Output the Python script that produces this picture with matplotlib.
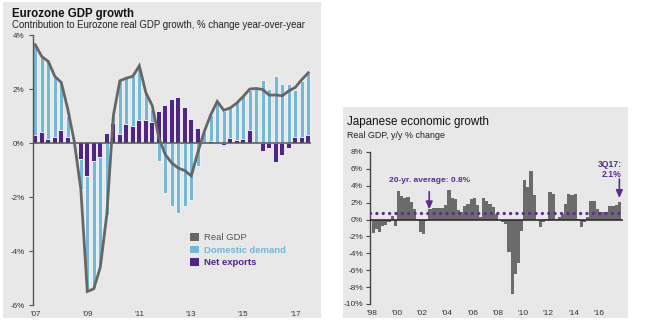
import matplotlib
matplotlib.use("Agg")
import matplotlib.pyplot as plt
import matplotlib.font_manager as fm
from matplotlib.patches import Rectangle, Patch
import numpy as np

# ---------------- data ----------------
ez_start = 2007.0
ez_gdp = [3.64, 3.2, 3.02, 2.47, 2.24, 1.25, 0.05, -1.7, -5.5, -5.4, -4.6, -2.65,
          1.0, 2.3, 2.4, 2.47, 2.86, 1.87, 1.38, 0.2, -0.43, -0.74, -0.93, -1.02,
          -1.22, -0.35, 0.43, 1.05, 1.54, 1.21, 1.3, 1.48, 1.73, 2.0, 2.02, 1.98,
          1.77, 1.78, 1.75, 1.93, 2.06, 2.35, 2.6]
ez_domestic = [3.33, 2.78, 2.86, 2.25, 1.76, 0.8, 0.1, -1.1, -4.2, -4.7, -4.0, -2.65,
               0.3, 1.95, 1.7, 1.85, 2.0, 1.05, 0.5, -0.68, -1.85, -2.35, -2.6, -2.32,
               -2.1, -0.86, 0.4, 0.95, 1.5, 1.2, 1.1, 1.42, 1.64, 1.5, 2.04, 2.35,
               2.0, 2.49, 2.2, 2.2, 1.76, 2.06, 2.29]
ez_netexp = [0.31, 0.42, 0.16, 0.22, 0.48, 0.21, -0.05, -0.59, -1.21, -0.68, -0.53, 0.35,
             0.74, 0.35, 0.72, 0.62, 0.86, 0.84, 0.77, 1.16, 1.38, 1.58, 1.67, 1.28,
             0.86, 0.52, 0.0, 0.09, 0.0, -0.06, 0.2, 0.11, 0.14, 0.47, 0.0, -0.31,
             -0.19, -0.72, -0.43, -0.19, 0.22, 0.22, 0.3]
ez_xticks = [2007, 2009, 2011, 2013, 2015, 2017]
ez_xlabels = ["'07", "'09", "'11", "'13", "'15", "'17"]
ez_yticks = [4, 2, 0, -2, -4, -6]
ez_ylabels = ["4%", "2%", "0%", "-2%", "-4%", "-6%"]
ez_legend = ["Real GDP", "Domestic demand", "Net exports"]

jp_start = 1998.0
jp_gdp = [-1.6, -1.1, -1.5, -0.8, -0.6, -0.3, 0.4, -0.8,
          3.4, 2.8, 2.6, 2.7, 2.1, 1.2, 0.1, -1.5,
          -1.7, -0.2, 1.2, 1.4, 1.4, 1.4, 1.4, 1.7,
          3.5, 2.6, 2.4, 1.1, 0.9, 1.6, 1.9, 2.4,
          2.5, 1.7, 0.3, 2.5, 2.2, 1.8, 1.5, 0.6,
          0.0, -0.3, -0.5, -3.8, -8.8, -6.5, -5.2, -1.4,
          4.7, 3.8, 5.8, 2.9, -0.1, -0.9, -0.3, 0.1,
          3.3, 3.0, 0.1, 0.3, 0.7, 1.9, 3.0, 2.9,
          3.0, 0.1, -0.9, -0.3, 0.3, 2.2, 2.2, 1.2,
          0.9, 0.9, 0.9, 1.6, 1.6, 1.7, 2.1]
jp_average = 0.8
jp_xticks = [1998, 2000, 2002, 2004, 2006, 2008, 2010, 2012, 2014, 2016]
jp_xlabels = ["'98", "'00", "'02", "'04", "'06", "'08", "'10", "'12", "'14", "'16"]
jp_yticks = [8, 6, 4, 2, 0, -2, -4, -6, -8, -10]
jp_ylabels = ["8%", "6%", "4%", "2%", "0%", "-2%", "-4%", "-6%", "-8%", "-10%"]

# ---------------- style ----------------
names = {f.name for f in fm.fontManager.ttflist}
SANS = "Liberation Sans" if "Liberation Sans" in names else "DejaVu Sans"
plt.rcParams["font.family"] = [SANS, "DejaVu Sans"]

BG = "#e8e8e8"
BLUE = "#76b7d4"
PURPLE = "#4f2683"
GRAY_LINE = "#666666"
JP_BAR = "#6b6b6b"
TXT = "#333333"
JP_PURPLE = "#5a2d91"

W, H = 645, 326
fig = plt.figure(figsize=(W / 100, H / 100), dpi=100)
fig.patch.set_facecolor("white")


def px_rect(x0, y0, x1, y1):
    return [x0 / W, 1 - y1 / H, (x1 - x0) / W, (y1 - y0) / H]


# panel backgrounds (as a background axes so they stay behind everything)
bg_ax = fig.add_axes([0, 0, 1, 1], zorder=-10)
bg_ax.set_axis_off()
bg_ax.set_xlim(0, W)
bg_ax.set_ylim(H, 0)
for (x0, y0, x1, y1) in [(3, 2, 321, 318), (343, 107, 628, 318)]:
    bg_ax.add_patch(Rectangle((x0, y0), x1 - x0, y1 - y0, facecolor=BG, edgecolor="none"))

# ---------------- Eurozone ----------------
ax = fig.add_axes(px_rect(33, 35, 311, 305))
ax.set_facecolor("none")
n = len(ez_gdp)
x = ez_start + np.arange(n) / 4.0
gdp = np.array(ez_gdp)
dd = np.array(ez_domestic)
nx = np.array(ez_netexp)
dd_bottom = np.where(np.sign(dd) == np.sign(nx), nx, 0.0)
bw = 0.25 * 0.66
ax.bar(x, nx, width=bw, color=PURPLE, edgecolor="none", zorder=2)
ax.bar(x, dd, bottom=dd_bottom, width=bw, color=BLUE, edgecolor="#f4f8fa",
       linewidth=0.6, zorder=2)
ax.axhline(0, color="#555555", lw=1.1, zorder=3)
ax.plot(x, gdp, color=GRAY_LINE, lw=2.0, zorder=4, solid_joinstyle="miter")
ax.set_xlim(ez_start - 2.3 / 26, ez_start + (311 - 35.3) / 26)
ax.set_ylim(-6, 4)
ax.set_yticks(ez_yticks)
ax.set_yticklabels(ez_ylabels)
ax.set_xticks(ez_xticks)
ax.set_xticklabels(ez_xlabels)
for s in ["top", "right", "bottom"]:
    ax.spines[s].set_visible(False)
ax.spines["left"].set_color("#555555")
ax.spines["left"].set_linewidth(1.0)
ax.tick_params(axis="y", length=3, width=0.8, color="#555555", pad=3,
               labelsize=5.8, labelcolor=TXT)
ax.tick_params(axis="x", length=0, pad=4, labelsize=5.8, labelcolor=TXT)

handles = [Patch(facecolor=GRAY_LINE, edgecolor="none"),
           Patch(facecolor=BLUE, edgecolor="none"),
           Patch(facecolor=PURPLE, edgecolor="none")]
leg = ax.legend(handles, ez_legend, loc="upper left",
                bbox_to_anchor=(190 / W, 1 - 233 / H), bbox_transform=fig.transFigure,
                frameon=False, fontsize=6.8, handlelength=1.0, handleheight=0.85,
                handletextpad=0.45, labelspacing=0.38, borderpad=0, borderaxespad=0)
for t, c, wgt in zip(leg.get_texts(), ["#555555", BLUE, PURPLE], ["normal", "bold", "bold"]):
    t.set_color(c)
    t.set_fontweight(wgt)

fig.text(12 / W, 1 - 17 / H, "Eurozone GDP growth", fontsize=8.3, fontweight="bold",
         color="#111111", va="baseline", ha="left")
fig.text(12 / W, 1 - 27.5 / H,
         "Contribution to Eurozone real GDP growth, % change year-over-year",
         fontsize=6.9, color="#222222", va="baseline", ha="left")

# ---------------- Japan ----------------
px_per_year = 12.62
axj = fig.add_axes(px_rect(370, 152, 623, 304))
axj.set_facecolor("none")
m = len(jp_gdp)
xj = jp_start + np.arange(m) / 4.0
axj.bar(xj, jp_gdp, width=0.25, align="edge", color=JP_BAR, edgecolor="none", zorder=2)
axj.axhline(0, color="#222222", lw=1.1, zorder=3)
axj.axhline(jp_average, color=JP_PURPLE, lw=2.4, ls=(0, (0.01, 1.9)),
            dash_capstyle="round", zorder=4)
axj.set_xlim(jp_start - 1.7 / px_per_year, jp_start + (623 - 371.7) / px_per_year)
axj.set_ylim(-10, 8)
axj.set_yticks(jp_yticks)
axj.set_yticklabels(jp_ylabels)
axj.set_xticks(jp_xticks)
axj.set_xticklabels(jp_xlabels)
for s in ["top", "right", "bottom"]:
    axj.spines[s].set_visible(False)
axj.spines["left"].set_color("#444444")
axj.spines["left"].set_linewidth(1.0)
axj.tick_params(axis="y", length=3, width=0.8, color="#444444", pad=2,
                labelsize=6.0, labelcolor=TXT)
axj.tick_params(axis="x", length=0, pad=4, labelsize=6.0, labelcolor=TXT)

avg_x = 2002.56
axj.annotate("", xy=(avg_x, 1.2), xytext=(avg_x, 3.3),
             arrowprops=dict(arrowstyle="-|>,head_length=0.45,head_width=0.2",
                             color=JP_PURPLE, lw=1.2, shrinkA=0, shrinkB=0), zorder=5)
axj.text(avg_x, 4.6, "20-yr. average: %.1f%%" % jp_average, ha="center", va="center",
         fontsize=6.0, color=JP_PURPLE, fontweight="bold")
last_x = xj[-1] + 0.125
axj.annotate("", xy=(last_x, jp_gdp[-1] + 0.45), xytext=(last_x, 4.8),
             arrowprops=dict(arrowstyle="-|>,head_length=0.45,head_width=0.2",
                             color=JP_PURPLE, lw=1.2, shrinkA=0, shrinkB=0), zorder=5)
axj.text(xj[-1] + 0.3, 5.9, "3Q17:\n%.1f%%" % jp_gdp[-1], ha="right", va="center",
         fontsize=6.2, color=JP_PURPLE, fontweight="bold", linespacing=1.2)

fig.text(347 / W, 1 - 125 / H, "Japanese economic growth", fontsize=8.4,
         color="#111111", va="baseline", ha="left")
fig.text(347 / W, 1 - 137.5 / H, "Real GDP, y/y % change", fontsize=6.4,
         color="#222222", va="baseline", ha="left")

fig.savefig("out.png", dpi=100, facecolor="white")
